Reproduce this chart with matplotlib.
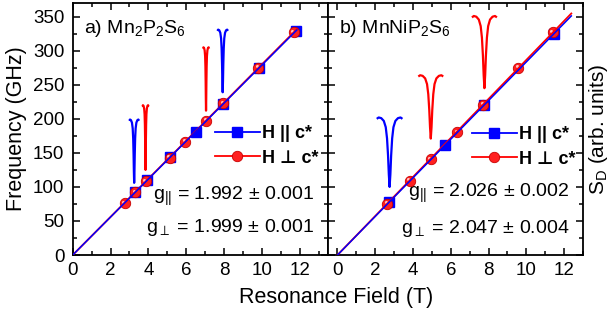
import numpy as np
import matplotlib
matplotlib.use('Agg')
import matplotlib.pyplot as plt
import matplotlib.transforms as mtransforms
from matplotlib.ticker import MultipleLocator
from matplotlib.lines import Line2D

plt.rcParams['font.family'] = ['Liberation Sans', 'DejaVu Sans']
plt.rcParams['mathtext.fontset'] = 'custom'
plt.rcParams['mathtext.rm'] = 'Liberation Sans'
plt.rcParams['mathtext.it'] = 'Liberation Sans:italic'
plt.rcParams['mathtext.bf'] = 'Liberation Sans:bold'

# a) Mn2P2S6 - campo de ressonancia (T) e frequencia (GHz)
a_par_B = [3.30, 3.95, 5.15, 6.50, 7.97, 9.86, 11.80]
a_par_f = [92, 110, 143.5, 181, 222, 275, 329]
a_perp_B = [2.75, 3.30, 3.85, 5.12, 5.95, 7.05, 7.95, 9.82, 11.68]
a_perp_f = [76, 92, 108, 143, 166.5, 197, 222.5, 275, 327]
a_g = [1.992, 1.999]
a_fit_B = [0.0, 11.85]

# b) MnNiP2S6
b_par_B = [2.75, 5.68, 7.75, 11.45]
b_par_f = [78, 161, 221, 325]
b_perp_B = [2.63, 3.83, 4.94, 6.33, 7.71, 9.56, 11.41]
b_perp_f = [75, 109, 140.5, 180, 221, 275, 327]
b_g = [2.026, 2.047]
b_fit_B = [0.0, 12.38]

GHZ_PER_T = 13.996  # mu_B / h

# perfil da linha de absorcao, em unidades relativas
dip_dx = [-1.0, -0.85, -0.65, -0.45, -0.3, -0.2, -0.12, -0.06, 0.0,
          0.06, 0.12, 0.2, 0.3, 0.45, 0.65, 0.85, 1.0]
dip_dy = [0.02, 0.0, 0.01, 0.05, 0.14, 0.30, 0.55, 0.82, 1.0,
          0.82, 0.55, 0.30, 0.14, 0.05, 0.01, 0.0, 0.02]

# espectros S_D: centro, topo, profundidade, meia largura, cor
a_spec_center = [3.25, 3.85, 7.05, 7.93]
a_spec_top = [199, 220, 305, 331]
a_spec_depth = [93, 95, 93, 92]
a_spec_span = [0.26, 0.16, 0.16, 0.28]
a_spec_color = ['blue', 'red', 'red', 'blue']

b_spec_center = [2.76, 4.94, 7.78]
b_spec_top = [202, 264, 351]
b_spec_depth = [102, 93, 106]
b_spec_span = [0.68, 0.66, 0.66]
b_spec_color = ['blue', 'red', 'red']

BLUE = '#0000ff'
RED = '#ff0000'

fig = plt.figure(figsize=(6.13, 3.2), dpi=100)
ax1 = fig.add_axes([0.1186, 0.203, 0.4165, 0.7875])
ax2 = fig.add_axes([0.5351, 0.203, 0.416, 0.7875])


def painel(ax, xlim, pB, pf, cB, cf, g, fitB, sc, st, sd, ss, scol, title, gtxt):
    ax.set_xlim(*xlim)
    ax.set_ylim(0, 370)
    ax.xaxis.set_major_locator(MultipleLocator(2))
    ax.xaxis.set_minor_locator(MultipleLocator(1))
    ax.yaxis.set_major_locator(MultipleLocator(50))
    ax.yaxis.set_minor_locator(MultipleLocator(25))
    ax.tick_params(which='both', direction='in', top=True, right=True,
                   width=1.1, labelsize=13.5)
    ax.tick_params(which='major', length=5)
    ax.tick_params(which='minor', length=3)
    ax.tick_params(axis='x', pad=5)
    ax.tick_params(axis='y', pad=6)
    for s in ax.spines.values():
        s.set_linewidth(1.3)

    # espectros
    for c, t, d, w, col in zip(sc, st, sd, ss, scol):
        xs = c + w * np.array(dip_dx)
        ys = t - d * np.array(dip_dy)
        ax.plot(xs, ys, color=BLUE if col == 'blue' else RED, lw=1.6,
                solid_capstyle='butt', zorder=2)

    ax.plot(pB, pf, 's', color=BLUE, ms=7, zorder=3)
    ax.plot(cB, cf, 'o', mfc='#ff2020', mec='#c80000', mew=0.6, ms=7.5, zorder=4)
    hl = mtransforms.offset_copy(ax.transData, fig=fig, x=-1.1, y=1.1, units='points')
    ax.plot(cB, cf, 'o', color='#ffc0c0', ms=2.2, mew=0, transform=hl, zorder=5)

    fitB = np.array(fitB)
    ax.plot(fitB, GHZ_PER_T * g[1] * fitB, color=RED, lw=1.3, zorder=6)
    ax.plot(fitB, GHZ_PER_T * g[0] * fitB, color=BLUE, lw=1.1, zorder=7)

    ax.text(0.045, 0.90, title, transform=ax.transAxes, fontsize=14, va='center')
    ax.text(0.945, gtxt[2], gtxt[0], transform=ax.transAxes, fontsize=14,
            ha='right', va='center')
    ax.text(0.945, gtxt[3], gtxt[1], transform=ax.transAxes, fontsize=14,
            ha='right', va='center')


painel(ax1, (0, 13.5), a_par_B, a_par_f, a_perp_B, a_perp_f, a_g, a_fit_B,
       a_spec_center, a_spec_top, a_spec_depth, a_spec_span, a_spec_color,
       'a) Mn$_2$P$_2$S$_6$',
       ['g$_{||}$ = 1.992 ± 0.001', 'g$_{\\perp}$ = 1.999 ± 0.001', 0.234, 0.111])
painel(ax2, (-0.5, 13), b_par_B, b_par_f, b_perp_B, b_perp_f, b_g, b_fit_B,
       b_spec_center, b_spec_top, b_spec_depth, b_spec_span, b_spec_color,
       'b) MnNiP$_2$S$_6$',
       ['g$_{||}$ = 2.026 ± 0.002', 'g$_{\\perp}$ = 2.047 ± 0.004', 0.246, 0.107])

ax2.tick_params(labelleft=False)
ax1.set_ylabel('Frequency (GHz)', fontsize=15.5, labelpad=4)
ax2.yaxis.set_label_position('right')
ax2.set_ylabel('S$_\\mathregular{D}$ (arb. units)', fontsize=15, labelpad=3)
fig.text(336 / 613, 1 - 298 / 320, 'Resonance Field (T)', ha='center',
         va='center', fontsize=15.5)

handles = [
    Line2D([], [], color=BLUE, lw=1.3, marker='s', ms=7),
    Line2D([], [], color=RED, lw=1.3, marker='o', ms=7.5, mfc='#ff2020', mec='#c80000', mew=0.6),
]
labels = ['H || c*', 'H ⊥ c*']
for ax, x0, y0 in [(ax1, 0.557, 0.4325), (ax2, 0.5635, 0.4286)]:
    ax.legend(handles, labels, loc='center left', bbox_to_anchor=(x0, y0),
              frameon=False, borderpad=0, borderaxespad=0, handlelength=2.5,
              handletextpad=0.1, labelspacing=0.4,
              prop=dict(family=['Liberation Sans', 'DejaVu Sans'], weight='bold', size=13))

fig.savefig('out.png', dpi=100)
